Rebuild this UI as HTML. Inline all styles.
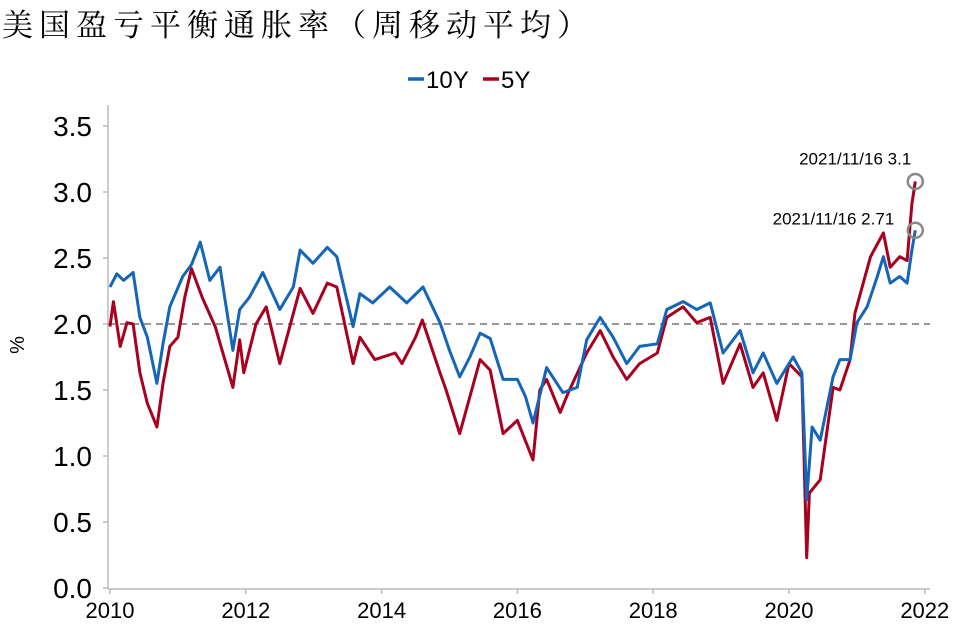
<!DOCTYPE html>
<html><head><meta charset="utf-8"><style>
body{margin:0;background:#fff;width:960px;height:635px;overflow:hidden}
svg{display:block}
text{font-family:"Liberation Sans",Arial,sans-serif;fill:#000}
</style></head><body>
<svg id="chart" width="960" height="635" viewBox="0 0 960 635">
<text x="2" y="36" font-size="31" letter-spacing="6" style="font-family:'Liberation Serif','Noto Serif CJK SC',serif">美国盈亏平衡通胀率（周移动平均）</text>
<g>
<line x1="408" y1="79" x2="424" y2="79" stroke="#1565b8" stroke-width="3.5"/>
<text x="426" y="88" font-size="24">10Y</text>
<line x1="483" y1="79" x2="499" y2="79" stroke="#a8001f" stroke-width="3.5"/>
<text x="501" y="88" font-size="24">5Y</text>
</g>
<text transform="translate(24,345) rotate(-90)" text-anchor="middle" font-size="20">%</text>
<g id="axes"></g>
<g id="marks"></g>
</svg>
<script>
const yTicks=[0,0.5,1,1.5,2,2.5,3,3.5];
const xTicks=[2010,2012,2014,2016,2018,2020,2022];
const dates10=[2010.0,2010.1,2010.2,2010.34,2010.44,2010.55,2010.69,2010.78,2010.88,2011.07,2011.2,2011.33,2011.47,2011.62,2011.81,2011.91,2012.05,2012.25,2012.5,2012.7,2012.8,2012.99,2013.2,2013.34,2013.58,2013.68,2013.87,2014.12,2014.37,2014.61,2014.86,2015.0,2015.15,2015.3,2015.45,2015.6,2015.79,2016.0,2016.12,2016.23,2016.43,2016.67,2016.88,2017.02,2017.22,2017.41,2017.61,2017.8,2018.06,2018.2,2018.44,2018.64,2018.84,2019.03,2019.28,2019.47,2019.62,2019.82,2020.06,2020.19,2020.26,2020.34,2020.46,2020.65,2020.75,2020.9,2021.0,2021.15,2021.3,2021.39,2021.49,2021.63,2021.74,2021.81,2021.86];
const values10=[2.28,2.38,2.33,2.39,2.05,1.9,1.55,1.85,2.13,2.36,2.45,2.62,2.33,2.43,1.8,2.11,2.2,2.39,2.11,2.28,2.56,2.46,2.58,2.51,1.98,2.23,2.16,2.28,2.16,2.28,2.01,1.8,1.6,1.75,1.93,1.89,1.58,1.58,1.45,1.25,1.67,1.48,1.52,1.88,2.05,1.9,1.7,1.83,1.85,2.11,2.17,2.11,2.16,1.78,1.95,1.63,1.78,1.55,1.75,1.63,0.67,1.22,1.12,1.6,1.73,1.73,2.01,2.13,2.36,2.51,2.31,2.36,2.31,2.56,2.71];
const dates5=[2010.0,2010.05,2010.15,2010.25,2010.34,2010.44,2010.55,2010.69,2010.78,2010.88,2011.0,2011.1,2011.2,2011.36,2011.55,2011.81,2011.91,2011.97,2012.15,2012.3,2012.5,2012.8,2012.99,2013.2,2013.34,2013.58,2013.68,2013.9,2014.2,2014.3,2014.5,2014.6,2014.86,2014.95,2015.15,2015.3,2015.45,2015.6,2015.79,2016.0,2016.23,2016.33,2016.43,2016.63,2016.75,2017.02,2017.22,2017.41,2017.61,2017.8,2018.06,2018.2,2018.44,2018.64,2018.84,2019.03,2019.28,2019.47,2019.62,2019.82,2020.0,2020.19,2020.26,2020.3,2020.46,2020.65,2020.75,2020.9,2020.97,2021.2,2021.39,2021.49,2021.63,2021.74,2021.81,2021.86];
const values5=[1.98,2.17,1.83,2.01,2.0,1.63,1.4,1.22,1.55,1.83,1.9,2.2,2.42,2.2,1.98,1.52,1.88,1.63,2.0,2.13,1.7,2.27,2.08,2.31,2.28,1.7,1.9,1.73,1.78,1.7,1.9,2.03,1.63,1.5,1.17,1.45,1.73,1.65,1.17,1.27,0.97,1.5,1.58,1.33,1.48,1.78,1.95,1.75,1.58,1.7,1.78,2.05,2.13,2.01,2.05,1.55,1.85,1.52,1.63,1.27,1.7,1.6,0.23,0.72,0.82,1.52,1.5,1.73,2.08,2.51,2.69,2.43,2.51,2.48,2.91,3.08];
const NS="http://www.w3.org/2000/svg";
const X0=110,PX=67.9,Y0=588,PY=132;
function xs(d){return X0+(d-2010)*PX;}
function ys(v){return Y0-v*PY;}
function mk(t,a,p){const e=document.createElementNS(NS,t);for(const k in a)e.setAttribute(k,a[k]);(p||document.getElementById('marks')).appendChild(e);return e;}
const ax=document.getElementById('axes');
let l=mk('line',{x1:108,y1:105,x2:108,y2:589,stroke:'#bbb','stroke-width':1.5},ax);


l=mk('line',{x1:108,y1:589,x2:930,y2:589,stroke:'#bbb','stroke-width':1.5},ax);


yTicks.forEach(v=>{
 const t=mk('line',{x1:103,y1:ys(v),x2:108,y2:ys(v),stroke:'#bbb','stroke-width':1.5},ax);
 
 
 const tx=mk('text',{x:92,y:ys(v)+10,'text-anchor':'end','font-size':28},ax);
 tx.textContent=v.toFixed(1);
 
 
});
xTicks.forEach(d=>{
 const t=mk('line',{x1:xs(d),y1:589,x2:xs(d),y2:594,stroke:'#bbb','stroke-width':1.5},ax);
 
 
 const tx=mk('text',{x:xs(d),y:618,'text-anchor':'middle','font-size':22},ax);
 tx.textContent=d;
 
 
});
const ref=mk('line',{x1:108,y1:ys(2),x2:930,y2:ys(2),stroke:'#888','stroke-width':1.8,'stroke-dasharray':'7,5'});


function line(ds,vs,c,name){
 const p=mk('polyline',{points:ds.map((d,i)=>xs(d).toFixed(1)+','+ys(vs[i]).toFixed(1)).join(' '),fill:'none',stroke:c,'stroke-width':3,'stroke-linejoin':'round'});
 
 
}
line(dates5,values5,'#a8001f','series-5y');
line(dates10,values10,'#1565b8','series-10y');
function ann(ds,vs,txt,name,dx,dy){
 const n=ds.length-1,cx=xs(ds[n]),cy=ys(vs[n]);
 const c=mk('circle',{cx:cx,cy:cy,r:7.5,fill:'none',stroke:'#888','stroke-width':2.5});
 
 
 const t=mk('text',{x:cx+dx,y:cy+dy,'text-anchor':'end','font-size':17});
 t.textContent=txt+' '+vs[n];
 
 
}
ann(dates5,values5,'2021/11/16','annotation-5y',-4,-17);
ann(dates10,values10,'2021/11/16','annotation-10y',-21,-6);
document.querySelectorAll('#marks text').forEach(t=>{ if(t.textContent.endsWith('3.08')) t.textContent='2021/11/16 3.1'; });
</script>
</body></html>
